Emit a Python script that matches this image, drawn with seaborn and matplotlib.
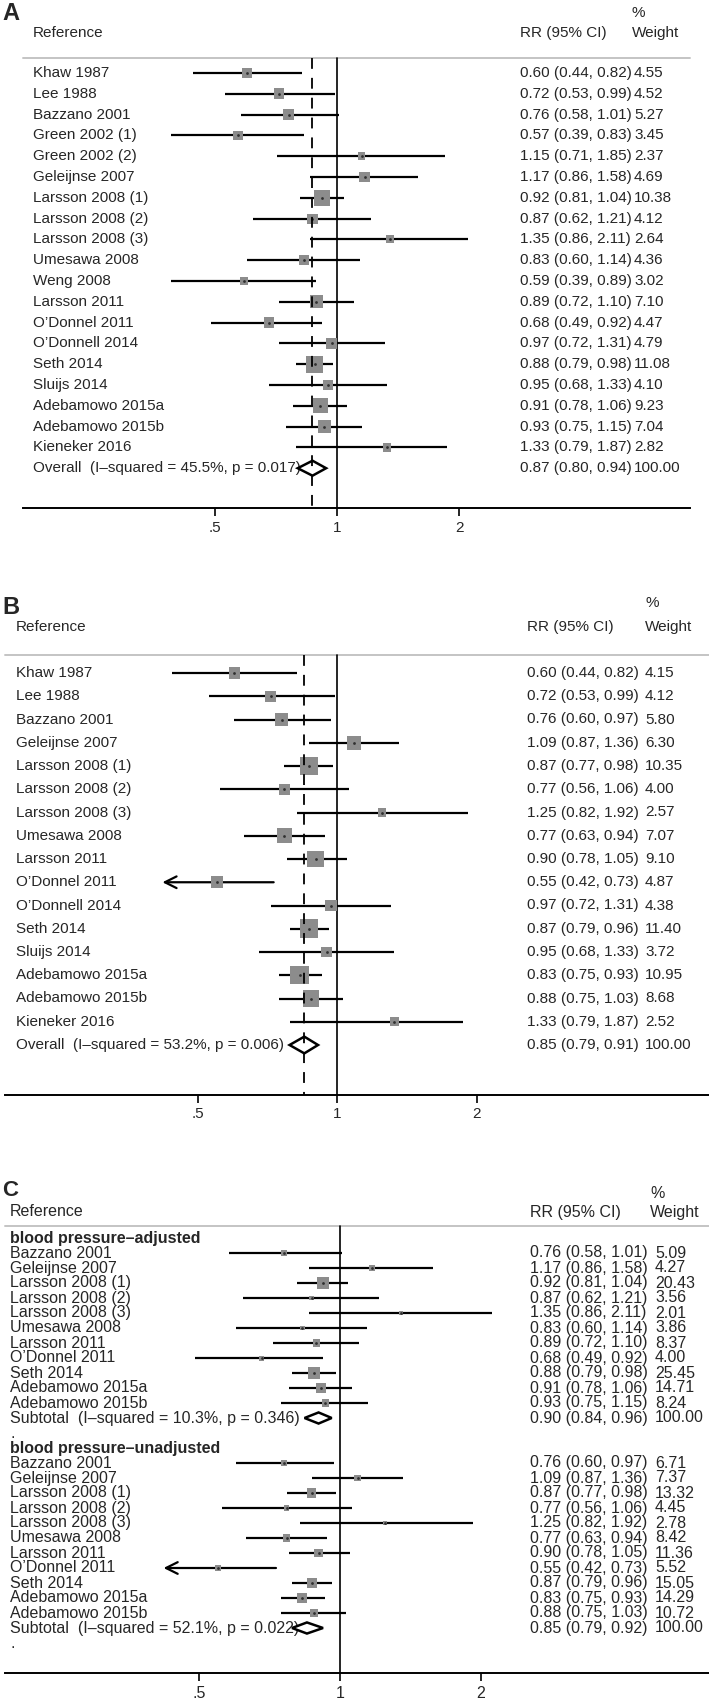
import numpy as np
import pandas as pd
import seaborn as sns
import matplotlib.pyplot as plt
import matplotlib.transforms as mtransforms
from matplotlib.patches import Polygon
from matplotlib.ticker import NullLocator

W, H = 709, 1703

# ---- panel A ----
a_study = ["Khaw 1987", "Lee 1988", "Bazzano 2001", "Green 2002 (1)", "Green 2002 (2)",
           "Geleijnse 2007", "Larsson 2008 (1)", "Larsson 2008 (2)", "Larsson 2008 (3)",
           "Umesawa 2008", "Weng 2008", "Larsson 2011", "O’Donnel 2011", "O’Donnell 2014",
           "Seth 2014", "Sluijs 2014", "Adebamowo 2015a", "Adebamowo 2015b", "Kieneker 2016"]
a_rr = [0.60, 0.72, 0.76, 0.57, 1.15, 1.17, 0.92, 0.87, 1.35, 0.83, 0.59, 0.89, 0.68, 0.97, 0.88, 0.95, 0.91, 0.93, 1.33]
a_lo = [0.44, 0.53, 0.58, 0.39, 0.71, 0.86, 0.81, 0.62, 0.86, 0.60, 0.39, 0.72, 0.49, 0.72, 0.79, 0.68, 0.78, 0.75, 0.79]
a_hi = [0.82, 0.99, 1.01, 0.83, 1.85, 1.58, 1.04, 1.21, 2.11, 1.14, 0.89, 1.10, 0.92, 1.31, 0.98, 1.33, 1.06, 1.15, 1.87]
a_wt = [4.55, 4.52, 5.27, 3.45, 2.37, 4.69, 10.38, 4.12, 2.64, 4.36, 3.02, 7.10, 4.47, 4.79, 11.08, 4.10, 9.23, 7.04, 2.82]
a_pool = [("Overall  (I–squared = 45.5%, p = 0.017)", 0.87, 0.80, 0.94)]

# ---- panel B ----
b_study = ["Khaw 1987", "Lee 1988", "Bazzano 2001", "Geleijnse 2007", "Larsson 2008 (1)",
           "Larsson 2008 (2)", "Larsson 2008 (3)", "Umesawa 2008", "Larsson 2011", "O’Donnel 2011",
           "O’Donnell 2014", "Seth 2014", "Sluijs 2014", "Adebamowo 2015a", "Adebamowo 2015b", "Kieneker 2016"]
b_rr = [0.60, 0.72, 0.76, 1.09, 0.87, 0.77, 1.25, 0.77, 0.90, 0.55, 0.97, 0.87, 0.95, 0.83, 0.88, 1.33]
b_lo = [0.44, 0.53, 0.60, 0.87, 0.77, 0.56, 0.82, 0.63, 0.78, 0.42, 0.72, 0.79, 0.68, 0.75, 0.75, 0.79]
b_hi = [0.82, 0.99, 0.97, 1.36, 0.98, 1.06, 1.92, 0.94, 1.05, 0.73, 1.31, 0.96, 1.33, 0.93, 1.03, 1.87]
b_wt = [4.15, 4.12, 5.80, 6.30, 10.35, 4.00, 2.57, 7.07, 9.10, 4.87, 4.38, 11.40, 3.72, 10.95, 8.68, 2.52]
b_arrow = ["O’Donnel 2011"]
b_pool = [("Overall  (I–squared = 53.2%, p = 0.006)", 0.85, 0.79, 0.91)]

# ---- panel C ----
c_groups = ["blood pressure–adjusted", "blood pressure–unadjusted"]
c_study = ["Bazzano 2001", "Geleijnse 2007", "Larsson 2008 (1)", "Larsson 2008 (2)", "Larsson 2008 (3)",
           "Umesawa 2008", "Larsson 2011", "O’Donnel 2011", "Seth 2014", "Adebamowo 2015a", "Adebamowo 2015b"]
c1_rr = [0.76, 1.17, 0.92, 0.87, 1.35, 0.83, 0.89, 0.68, 0.88, 0.91, 0.93]
c1_lo = [0.58, 0.86, 0.81, 0.62, 0.86, 0.60, 0.72, 0.49, 0.79, 0.78, 0.75]
c1_hi = [1.01, 1.58, 1.04, 1.21, 2.11, 1.14, 1.10, 0.92, 0.98, 1.06, 1.15]
c1_wt = [5.09, 4.27, 20.43, 3.56, 2.01, 3.86, 8.37, 4.00, 25.45, 14.71, 8.24]
c2_rr = [0.76, 1.09, 0.87, 0.77, 1.25, 0.77, 0.90, 0.55, 0.87, 0.83, 0.88]
c2_lo = [0.60, 0.87, 0.77, 0.56, 0.82, 0.63, 0.78, 0.42, 0.79, 0.75, 0.75]
c2_hi = [0.97, 1.36, 0.98, 1.06, 1.92, 0.94, 1.05, 0.73, 0.96, 0.93, 1.03]
c2_wt = [6.71, 7.37, 13.32, 4.45, 2.78, 8.42, 11.36, 5.52, 15.05, 14.29, 10.72]
c_arrow = "O’Donnel 2011"   # arrow only in the unadjusted group
c_pool = [("Subtotal  (I–squared = 10.3%, p = 0.346)", 0.90, 0.84, 0.96),
          ("Subtotal  (I–squared = 52.1%, p = 0.022)", 0.85, 0.79, 0.92)]

sns.set_theme(style="white")
plt.rcParams['font.family'] = ['Liberation Sans', 'DejaVu Sans']

fig = plt.figure(figsize=(W / 100, H / 100), dpi=100)
GRAY = "#8c8c8c"


def panel(L, df, pools, labels):
    r = lambda px: (px - L['y0']) / L['dy']
    px2x = lambda px: float(2 ** ((px - L['one']) / L['unit']))
    ax = fig.add_axes([0, 1 - L['axis'] / H, 1, (L['axis'] - L['top']) / H])
    ax.set_xscale('log', base=2)
    ax.set_xlim(px2x(0), px2x(W))
    ax.set_ylim(r(L['axis']), r(L['top']))
    ax.patch.set_alpha(0)
    tr = mtransforms.blended_transform_factory(ax.transAxes, ax.transData)
    fs = L['fs']

    rr = df['rr'].to_numpy(float)
    lo = df['lo'].to_numpy(float)
    hi = df['hi'].to_numpy(float)
    row = df['row'].to_numpy(float)
    arrow = df['arrow'].to_numpy(bool)

    # frame lines
    ax.plot([px2x(L['x0']), px2x(L['x1'])], [r(L['gray'])] * 2, color="#c4c4c4", lw=1.4, clip_on=False)
    ax.plot([1.0, 1.0], [r(L['gray']), r(L['axis'])], color="black", lw=1.2)
    if L['dash']:
        est = pools[0][1][1]
        ax.plot([est, est], [r(L['gray']), r(L['axis'])], color="black", lw=1.3,
                ls=(0, (6, 5)), zorder=5)

    # CI lines
    ax.hlines(row[~arrow], lo[~arrow], hi[~arrow], color="black", lw=L['lw'], zorder=2)
    for x0, x1, y in zip(lo[arrow], hi[arrow], row[arrow]):
        ax.annotate("", xy=(x0, y), xytext=(x1, y),
                    arrowprops=dict(arrowstyle="->,head_length=0.7,head_width=0.35",
                                    lw=L['lw'], color="black", shrinkA=0, shrinkB=0))
    ax.scatter(rr, row, s=4, color="#303030", zorder=4, linewidths=0)

    # pooled diamonds
    for prow, (lab, est, plo, phi) in pools:
        h = L['dh']
        ax.add_patch(Polygon([(plo, prow), (est, prow - h), (phi, prow), (est, prow + h)],
                             closed=True, fc="white", ec="black", lw=1.8, zorder=4))
        ax.text(L['name_x'] / W, prow, lab, transform=tr, va='center', fontsize=fs)
        ax.text(L['rr_x'] / W, prow, f"{est:.2f} ({plo:.2f}, {phi:.2f})", transform=tr,
                va='center', fontsize=fs)
        ax.text(L['wt_x'] / W, prow, "100.00", transform=tr, va='center', fontsize=fs)

    for _, d in df.iterrows():
        ax.text(L['name_x'] / W, d['row'], d['study'], transform=tr, va='center', fontsize=fs)
        ax.text(L['rr_x'] / W, d['row'], f"{d['rr']:.2f} ({d['lo']:.2f}, {d['hi']:.2f})",
                transform=tr, va='center', fontsize=fs)
        ax.text(L['wt_x'] / W, d['row'], f"{d['wt']:.2f}", transform=tr, va='center', fontsize=fs)

    for lrow, lab, bold in labels:
        ax.text(L['name_x'] / W, lrow, lab, transform=tr, va='center', fontsize=fs,
                fontweight='bold' if bold else 'normal')

    # headers
    ax.text(2 / W, r(L['letter']), L['letter_txt'], transform=tr, va='center', fontsize=L['lfs'],
            fontweight='bold')
    ax.text(L['name_x'] / W, r(L['header']), "Reference", transform=tr, va='center', fontsize=fs)
    ax.text(L['rr_x'] / W, r(L['header']), "RR (95% CI)", transform=tr, va='center', fontsize=fs)
    ax.text(L['pct_x'] / W, r(L['header']), "Weight", transform=tr, va='center', fontsize=fs)
    ax.text(L['pct_x'] / W, r(L['pct']), "%", transform=tr, va='center', fontsize=fs)

    # x axis
    for s in ['top', 'left', 'right']:
        ax.spines[s].set_visible(False)
    ax.spines['bottom'].set_color("black")
    ax.spines['bottom'].set_linewidth(1.4)
    ax.spines['bottom'].set_bounds(px2x(L['x0']), px2x(L['x1']))
    ax.set_xticks([0.5, 1, 2])
    ax.set_xticklabels([".5", "1", "2"])
    ax.xaxis.set_minor_locator(NullLocator())
    ax.set_yticks([])
    ax.tick_params(axis='x', bottom=True, direction='out', length=6, width=1.2,
                   color="black", labelsize=fs, pad=3)

    # weighted boxes (area proportional to weight), drawn through seaborn
    c = (0.72 * L['k']) ** 2
    sns.scatterplot(x=rr, y=row, size=df['wt'].to_numpy(float),
                    sizes=(c * df['wt'].min(), c * df['wt'].max()),
                    marker='s', color=GRAY, edgecolor='none', legend=False, ax=ax, zorder=3)
    ax.set_xlabel("")
    ax.set_ylabel("")
    ax.set_xlim(px2x(0), px2x(W))
    ax.set_ylim(r(L['axis']), r(L['top']))
    return ax


def frame(study, rr, lo, hi, wt, rows, arrows):
    df = pd.DataFrame({'study': study, 'rr': rr, 'lo': lo, 'hi': hi, 'wt': wt, 'row': rows})
    df['arrow'] = df['study'].isin(arrows)
    return df


# A
LA = dict(top=0, letter=14, letter_txt="A", lfs=17, pct=13, header=33, gray=58, y0=73, dy=20.8, axis=508,
          one=337, unit=122, x0=23, x1=690, name_x=33, rr_x=520, wt_x=634, pct_x=632,
          fs=11, k=5.0, dh=0.36, lw=1.6, dash=True)
dfa = frame(a_study, a_rr, a_lo, a_hi, a_wt, list(range(len(a_study))), [])
panel(LA, dfa, [(len(a_study), a_pool[0])], [])

# B
LB = dict(top=590, letter=607, letter_txt="B", lfs=17, pct=603, header=627, gray=655, y0=673, dy=23.25, axis=1095,
          one=337, unit=139.5, x0=5, x1=709, name_x=16, rr_x=527, wt_x=645, pct_x=645,
          fs=11, k=5.5, dh=0.36, lw=1.6, dash=True)
dfb = frame(b_study, b_rr, b_lo, b_hi, b_wt, list(range(len(b_study))), b_arrow)
panel(LB, dfb, [(len(b_study), b_pool[0])], [])

# C
n = len(c_study)
rows1 = list(range(1, n + 1))
rows2 = list(range(n + 4, 2 * n + 4))
dfc1 = frame(c_study, c1_rr, c1_lo, c1_hi, c1_wt, rows1, [])
dfc2 = frame(c_study, c2_rr, c2_lo, c2_hi, c2_wt, rows2, [c_arrow])
dfc = pd.concat([dfc1, dfc2], ignore_index=True)
LC = dict(top=1175, letter=1191, letter_txt="C", lfs=16, pct=1193, header=1212, gray=1226, y0=1238, dy=15, axis=1673,
          one=340, unit=141, x0=5, x1=709, name_x=10, rr_x=530, wt_x=655, pct_x=650,
          fs=11.5, k=2.5, dh=0.37, lw=1.6, dash=False)
panel(LC, dfc, [(n + 1, c_pool[0]), (2 * n + 4, c_pool[1])],
      [(0, c_groups[0], True), (n + 2, ".", False), (n + 3, c_groups[1], True), (2 * n + 5, ".", False)])

fig.savefig("out.png", dpi=100)
